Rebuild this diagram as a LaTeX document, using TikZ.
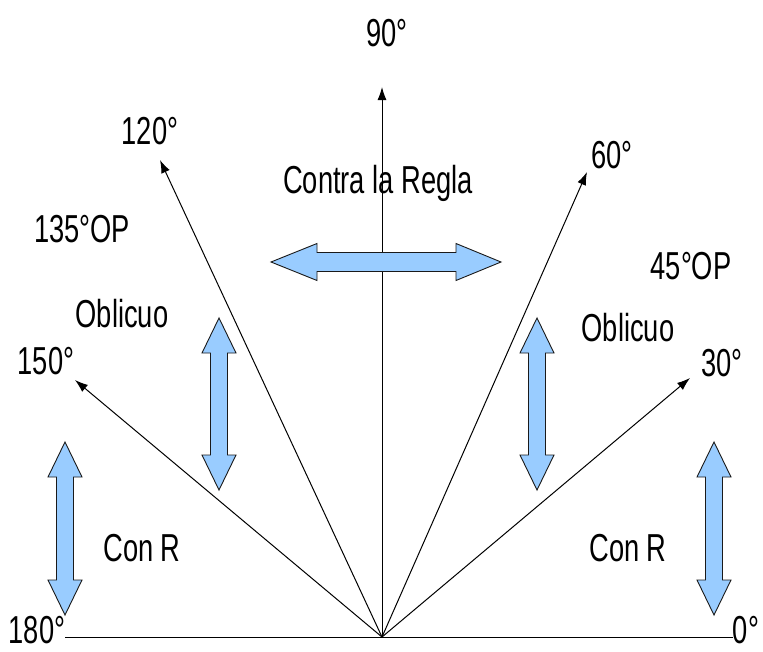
\documentclass[tikz,border=0pt]{standalone}
\usepackage{fontspec}
\setmainfont[FakeStretch=0.7]{Liberation Sans}
\usetikzlibrary{arrows.meta}
\definecolor{arrfill}{HTML}{99CCFF}
\definecolor{arredge}{HTML}{1A1A1A}
\newcommand\myvdarrow[3]{%
  \fill[arrfill,draw=arredge,line width=0.9pt,line join=miter]
    (#1,#2) -- (#1+17,#2+35) -- (#1+8.5,#2+35) -- (#1+8.5,#3-35) -- (#1+17,#3-35)
    -- (#1,#3) -- (#1-17,#3-35) -- (#1-8.5,#3-35) -- (#1-8.5,#2+35) -- (#1-17,#2+35) -- cycle;}
\begin{document}
\begin{tikzpicture}[x=1pt,y=-1pt,
  lbl/.style={inner sep=0pt,font=\fontsize{39}{44}\selectfont},
  ray/.style={line width=1pt,-{Latex[length=13pt,width=9pt]}},
  base/.style={line width=1pt}]
\useasboundingbox (0,0) rectangle (763,651);
\fill[white] (0,0) rectangle (763,651);
% origin and ray ends
\coordinate (O) at (382,637);
\coordinate (e90) at (382,87);
\coordinate (e60) at (587,172);
\coordinate (e120) at (160,160);
\coordinate (e30) at (690,378);
\coordinate (e150) at (75,380);
% labels
\node[lbl] (l90) at (387,33) {90°};
\node[lbl] (l60) at (612,155) {60°};
\node[lbl] (l120) at (150,131) {120°};
\node[lbl] (l30) at (722,363) {30°};
\node[lbl] (l150) at (46,361) {150°};
\node[lbl] (l180) at (37,630) {180°};
\node[lbl] (l0) at (746,630) {0°};
\node[lbl] (l135) at (82,229) {135°OP};
\node[lbl] (l45) at (691,266) {45°OP};
\node[lbl] (obl) at (122,314) {Oblicuo};
\node[lbl] (obr) at (628,328) {Oblicuo};
\node[lbl] (crl) at (142,548) {Con R};
\node[lbl] (crr) at (628,548) {Con R};
\node[lbl] (contra) at (378,183) {Contra la Regla};
% rays
\draw[base] (l180.east |- O) -- (l0.west |- O);
\draw[ray] (O) -- (e90);
\draw[ray] (O) -- (e60);
\draw[ray] (O) -- (e120);
\draw[ray] (O) -- (e30);
\draw[ray] (O) -- (e150);
% horizontal double arrow
\fill[arrfill,draw=arredge,line width=0.9pt,line join=miter]
  (271,262) -- (317,243.5) -- (317,252.5) -- (456,252.5) -- (456,243.5) -- (501,262)
  -- (456,280.5) -- (456,271.5) -- (317,271.5) -- (317,280.5) -- cycle;
% vertical double arrows
\myvdarrow{219}{318}{490}
\myvdarrow{537}{318}{490}
\myvdarrow{65}{442}{615}
\myvdarrow{714}{442}{615}
\end{tikzpicture}
\end{document}
